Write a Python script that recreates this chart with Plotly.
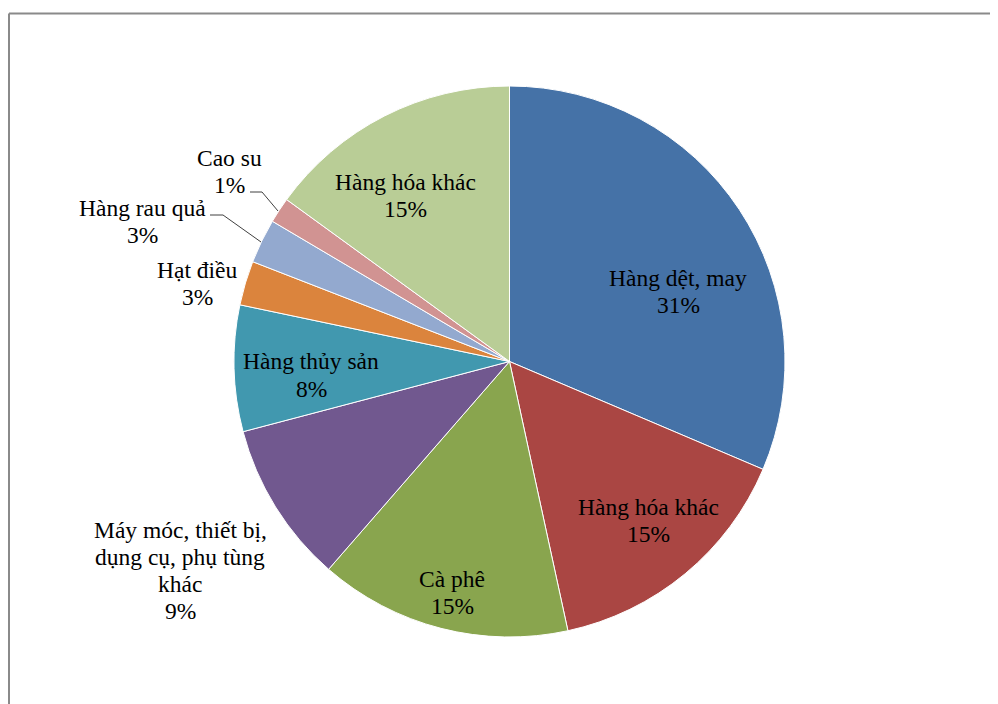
import plotly.graph_objects as go

# ---- data ----
categories = [
    "Hàng dệt, may",
    "Hàng hóa khác",
    "Cà phê",
    "Máy móc, thiết bị,<br>dụng cụ, phụ tùng<br>khác",
    "Hàng thủy sản",
    "Hạt điều",
    "Hàng rau quả",
    "Cao su",
    "Hàng hóa khác",
]
values = [31.4, 15.2, 14.8, 9.5, 7.4, 2.6, 2.6, 1.5, 15.0]
pct_labels = ["31%", "15%", "15%", "9%", "8%", "3%", "3%", "1%", "15%"]
colors = ["#4572A7", "#AA4643", "#89A54E", "#71588F", "#4198AF",
          "#DB843D", "#93A9CF", "#D19392", "#B9CD96"]

W, H = 998, 704
OFF = 8  # page body offset in the screenshot

def px(x, y):
    return (x - OFF) / W, 1 - (y - OFF) / H

# label block centres in screenshot pixels (layout only)
label_pos = [(678, 291), (648, 520), (452, 592), (180, 570), (311, 375),
             (197, 283), (142, 221), (229, 171), (405, 196)]
LINE_GAP = 27
FONT = "Liberation Serif"
FONT_SIZE = 23.5

cx, cy, R = 509.5, 361.5, 275.5
x0, y1 = px(cx - R, cy - R)
x1, y0 = px(cx + R, cy + R)

fig = go.Figure(go.Pie(
    labels=[f"{c} ({i})" for i, c in enumerate(categories)],
    values=values,
    sort=False,
    direction="clockwise",
    rotation=0,
    marker=dict(colors=colors, line=dict(color="white", width=1)),
    textinfo="none",
    hoverinfo="skip",
    showlegend=False,
    domain=dict(x=[x0, x1], y=[y0, y1]),
))

annotations = []
for cat, pct, (lx, ly) in zip(categories, pct_labels, label_pos):
    lines = cat.split("<br>") + [pct]
    n = len(lines)
    for i, line in enumerate(lines):
        ax, ay = px(lx, ly + (i - (n - 1) / 2) * LINE_GAP)
        annotations.append(dict(
            x=ax, y=ay, xref="paper", yref="paper",
            text=line, showarrow=False,
            xanchor="center", yanchor="middle", align="center",
            font=dict(family=FONT, size=FONT_SIZE, color="#000000"),
        ))

shapes = []
# leader lines
for pts in ([(250, 192), (262, 192), (278, 211)],
            [(210, 215), (223, 215), (261, 242)]):
    path = "M " + " L ".join(f"{px(x, y)[0]},{px(x, y)[1]}" for x, y in pts)
    shapes.append(dict(type="path", path=path, xref="paper", yref="paper",
                       line=dict(color="#404040", width=1)))
# frame
fx, fy = px(9, 13.5)
shapes.append(dict(type="line", xref="paper", yref="paper", x0=fx, y0=fy, x1=1, y1=fy,
                   line=dict(color="#8a8a8a", width=2)))
shapes.append(dict(type="line", xref="paper", yref="paper", x0=fx, y0=fy, x1=fx, y1=0,
                   line=dict(color="#8a8a8a", width=2)))

fig.update_layout(
    width=W, height=H,
    margin=dict(l=0, r=0, t=0, b=0),
    paper_bgcolor="white",
    plot_bgcolor="white",
    font=dict(family=FONT),
    annotations=annotations,
    shapes=shapes,
)

fig.write_html("out.html")
